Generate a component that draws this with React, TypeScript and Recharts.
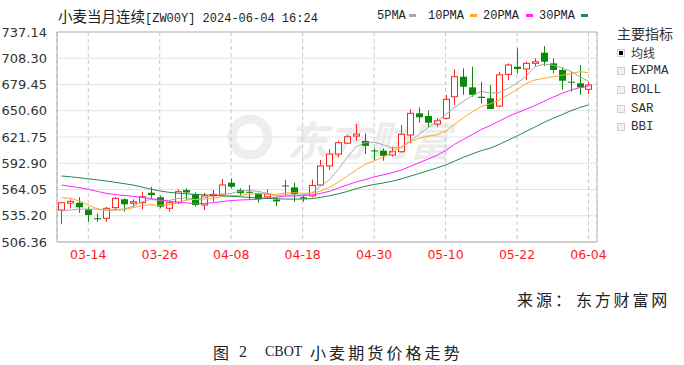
import React from 'react';
import { ComposedChart, Bar, Line, XAxis, YAxis, CartesianGrid, ReferenceLine } from 'recharts';

const dates = ['03-11','03-12','03-13','03-14','03-15','03-18','03-19','03-20','03-21','03-22','03-25','03-26','03-27','03-28','04-01','04-02','04-03','04-04','04-05','04-08','04-09','04-10','04-11','04-12','04-15','04-16','04-17','04-18','04-19','04-22','04-23','04-24','04-25','04-26','04-29','04-30','05-01','05-02','05-03','05-06','05-07','05-08','05-09','05-10','05-13','05-14','05-15','05-16','05-17','05-20','05-21','05-22','05-23','05-24','05-28','05-29','05-30','05-31','06-03','06-04'];
const opens = [541.5,549,549.5,542.3,532.5,532.4,544.1,553.3,549,549.5,560.5,555.5,543.4,549.5,563.4,558.8,547,557.2,558.8,571.5,563.5,561.5,560,556,553,568.5,566.4,555.5,557,569,590,603,615,622.8,617.4,607,606.7,602,605.6,624,647.8,644.8,636,642.3,666,688,676.3,666,664.3,655.8,690.6,699,696.5,702.7,714.4,702.7,695.4,682.5,680.8,674.2];
const highs = [550.6,553.3,555.5,545.1,537.9,545.1,555.5,554.4,553.3,561.6,567.1,557.2,550.6,564.2,565.3,561,560.5,563.5,575.6,576.3,565.3,569,560.6,564.2,556.1,574.5,571.5,557,575,596.5,608.3,617.7,623.9,636,625.8,609.3,609.3,611.1,634.9,652.1,654.3,650.6,642.3,667.9,696.1,697.2,698.9,682.5,678.8,693.5,702.7,719.2,704.5,708.2,721.7,708.2,698.3,693.5,700.9,682.5];
const lows = [526,543.4,538.6,528.6,528.6,528.6,541.5,539.7,545.1,542.3,554.4,543.4,539.7,548,552,545.1,541.5,550.6,557.2,565.3,556.9,553.3,549.5,554.4,545.9,557.2,550.6,550.6,555.5,567.9,585.5,599.4,614,617.7,603.1,596.5,595.7,600.1,604.5,614.8,637.5,633.1,633.1,641.2,656.9,668.2,666,658.8,652.5,655,684.3,691.7,684.3,699.1,699.8,691.7,673.9,671.5,668.2,669];
const closes = [549.5,551,544.5,536,531.3,543.4,554.4,547.8,550.6,556.1,558,545.1,549.5,561.6,560.8,547,557,558.8,569,567.1,560,560.5,553.3,559,551,567.5,559,554,568.5,590,603,615.5,622,625,612,606,601,605.6,624.7,647.8,643.4,637.5,639.6,663.2,688,677,668,664.6,652.5,690.1,700.9,696.5,702.7,704.5,704.5,695.4,683.6,681.4,676.3,678.9];
const ma5 = [540.5,541.5,542.5,542.5,542.5,541.2,541.9,542.6,545.5,550.5,553.4,551.5,551.9,554.1,555,552.8,555.2,557,558.5,559.8,562.4,563.1,562,560,556.8,558.3,558,558.1,560,567.8,574.9,586.2,599.8,611.1,615.5,616.1,613.2,609.9,609.9,617,624.5,631.8,638.6,646.3,654.3,661.1,667.2,672.2,670,670.4,675.2,680.9,688.5,698.9,701.8,700.7,698.1,693.9,688.2,683.1];
const ma10 = [555,554.4,551.5,547,543,541.5,541.3,541.8,544,546.5,547.3,546.7,547.2,549.8,552.7,553.1,553.4,554.5,556.3,557.4,557.6,559.1,559.5,559.3,558.3,560.3,560.5,560,560,562.3,566.6,572.1,579,585.6,591.7,595.5,599.7,604.9,610.5,616.3,620.3,622.5,624.3,628.1,635.7,642.8,649.5,655.4,658.2,662.4,668.1,674,680.4,684.5,686.1,688,689.5,691.2,693.6,692.5];
const ma20 = [569,567.5,566,564.3,562,559.8,558.5,557.5,556.6,555.4,554.1,552.5,551.2,550.2,549.3,548.5,548.7,549.6,550.8,551.9,552.5,552.9,553.4,554.5,555.5,556.7,556.9,557.2,558.1,559.8,562.1,565.6,569.2,572.4,575,577.9,580.1,582.5,585.2,589.3,593.4,597.3,601.6,606.8,613.7,619.1,624.6,630.1,634.3,639.3,644.2,648.3,652.3,656.3,660.9,665.4,669.5,673.3,675.9,677.4];
const ma30 = [578.9,578,577,575.8,574.6,573.4,572,570.5,569,566.8,564.5,562.5,561,560,559.3,558.7,558.2,557.7,557.2,556.6,556,555.4,554.8,554.3,553.9,553.6,553.5,553.6,554,555.4,557.2,559.3,561.9,564.9,567.6,569.6,571.2,573.1,575.6,578.6,581.5,584.6,587.6,591,595.2,599.5,603.2,606.8,609.5,613.6,618.3,622.9,627.9,632.7,637.8,642.1,646.2,650.5,654.1,657];

const yTicks = [506.36, 535.2, 564.05, 592.9, 621.75, 650.6, 679.45, 708.3, 737.14];
const xTicks = ['03-14','03-26','04-08','04-18','04-30','05-10','05-22','06-04'];
const maNames = ['5PMA','10PMA','20PMA','30PMA'];
const maColors = ['#a9a9a9','#ffa824','#ff22ff','#1f8a4c'];
const indicatorNames = ['均线','EXPMA','BOLL','SAR','BBI'];
const titleCn = '小麦当月连续';
const titleCode = '[ZW00Y] 2024-06-04 16:24';

const data = dates.map((d, i) => ({
  date: d,
  open: opens[i],
  high: highs[i],
  low: lows[i],
  close: closes[i],
  range: [lows[i], highs[i]],
  ma5: ma5[i],
  ma10: ma10[i],
  ma20: ma20[i],
  ma30: ma30[i],
}));

const UP = '#ff2020';
const DOWN = '#098a09';

const Candle = (props: any) => {
  const { x, y, width, height, payload } = props;
  if (!payload || x == null || y == null) return null;
  const { open, close, high, low } = payload;
  const top = Math.min(y, y + height);
  const h = Math.abs(height);
  const py = (v: number) => (high === low ? top : top + ((high - v) / (high - low)) * h);
  const cx = Math.round(x + width / 2) + 0.5;
  const up = close >= open;
  const color = up ? UP : DOWN;
  const bTop = py(Math.max(open, close));
  const bBot = py(Math.min(open, close));
  const bh = Math.max(bBot - bTop, 1);
  if (up) {
    return (
      <g>
        <line x1={cx} x2={cx} y1={top} y2={bTop} stroke={color} strokeWidth={1} />
        <line x1={cx} x2={cx} y1={bTop + bh} y2={top + h} stroke={color} strokeWidth={1} />
        <rect x={cx - 3} y={bTop} width={6} height={bh} fill="#fff" stroke={color} strokeWidth={1} />
      </g>
    );
  }
  return (
    <g>
      <line x1={cx} x2={cx} y1={top} y2={top + h} stroke={color} strokeWidth={1} />
      <rect x={cx - 3.5} y={bTop} width={7} height={bh} fill={color} />
    </g>
  );
};

const mono = '"Liberation Mono", monospace';
const cjk = '"Noto Sans CJK SC", sans-serif';

export default function App() {
  const legendX = [377, 428, 483, 539];
  const markerX = [409, 470, 526, 581];
  return (
    <div style={{ position: 'absolute', left: 0, top: 0, width: 684, height: 365, background: '#fff', overflow: 'hidden', fontFamily: '"DejaVu Sans", sans-serif' }}>
      {/* watermark */}
      <svg style={{ position: 'absolute', left: 0, top: 0, zIndex: 0 }} width={684} height={270}>
        <circle cx={250} cy={137} r={18} fill="none" stroke="#eeeeee" strokeWidth={9} />
        <text x={287} y={156} fontSize={41} fontWeight={700} fill="#ececec" fontFamily={cjk} fontStyle="italic">东方财富</text>
      </svg>
      <div style={{ position: 'absolute', left: 0, top: 0, zIndex: 1 }}>
        <ComposedChart width={684} height={270} data={data} margin={{ top: 32, right: 86, bottom: 0, left: 0 }}>
          <CartesianGrid vertical={false} stroke="#e3e3e3" />
          <CartesianGrid horizontal={false} stroke="#c8c8c8" strokeDasharray="4 3" />
          <XAxis
            dataKey="date"
            ticks={xTicks}
            interval={0}
            tickLine={false}
            axisLine={{ stroke: '#aaaaaa' }}
            height={28}
            padding={{ left: 0, right: 4 }}
            tick={{ fill: '#ff1a1a', fontSize: 12.5, fontFamily: '"DejaVu Sans"' }}
          />
          <YAxis
            domain={[506.36, 737.14]}
            ticks={yTicks}
            interval={0}
            allowDataOverflow
            width={57}
            tickLine={false}
            tickMargin={4}
            axisLine={{ stroke: '#aaaaaa' }}
            tickFormatter={(v: number) => v.toFixed(2)}
            tick={{ fill: '#333', fontSize: 13, fontFamily: '"DejaVu Sans"' }}
          />
          <YAxis yAxisId="r" orientation="right" width={1} tick={false} tickLine={false} axisLine={{ stroke: '#bbbbbb' }} domain={[0, 1]} />
          <ReferenceLine y={737.14} stroke="#bbbbbb" />
          <Bar dataKey="range" shape={(p: any) => <Candle {...p} />} isAnimationActive={false} />
          <Line type="linear" dataKey="ma5" stroke={maColors[0]} strokeWidth={1} dot={false} activeDot={false} isAnimationActive={false} />
          <Line type="linear" dataKey="ma10" stroke={maColors[1]} strokeWidth={1} dot={false} activeDot={false} isAnimationActive={false} />
          <Line type="linear" dataKey="ma20" stroke={maColors[2]} strokeWidth={1} dot={false} activeDot={false} isAnimationActive={false} />
          <Line type="linear" dataKey="ma30" stroke={maColors[3]} strokeWidth={1} dot={false} activeDot={false} isAnimationActive={false} />
        </ComposedChart>
      </div>

      {/* title */}
      <div style={{ position: 'absolute', left: 58, top: 7, height: 18, lineHeight: '18px', color: '#222', whiteSpace: 'nowrap', zIndex: 2 }}>
        <span style={{ fontFamily: cjk, fontSize: 14.5 }}>{titleCn}</span>
        <span style={{ fontFamily: mono, fontSize: 12 }}>{titleCode}</span>
      </div>

      {/* MA legend */}
      {maNames.map((n, i) => (
        <React.Fragment key={n}>
          <div style={{ position: 'absolute', left: legendX[i], top: 7, lineHeight: '18px', fontFamily: mono, fontSize: 12, color: '#222', zIndex: 2 }}>{n}</div>
          <div style={{ position: 'absolute', left: markerX[i], top: 14, width: 7, height: 3, background: maColors[i], zIndex: 2 }} />
        </React.Fragment>
      ))}

      {/* right panel */}
      <div style={{ position: 'absolute', left: 617, top: 24, lineHeight: '18px', fontFamily: cjk, fontSize: 14, color: '#333', zIndex: 2 }}>主要指标</div>
      {indicatorNames.map((n, i) => {
        const cy = 52.7 + i * 18.6;
        return (
          <React.Fragment key={n}>
            <div style={{ position: 'absolute', left: 617, top: cy - 4, width: 6, height: 6, border: '1px solid #cfcfcf', background: i === 0 ? '#fff' : '#f1f1f1', zIndex: 2 }}>
              {i === 0 ? <div style={{ position: 'absolute', left: 1, top: 1, width: 4, height: 4, background: '#000' }} /> : null}
            </div>
            <div style={{ position: 'absolute', left: 631, top: cy - 9, lineHeight: '18px', fontFamily: i === 0 ? cjk : mono, fontSize: i === 0 ? 12 : 12.5, color: '#333', whiteSpace: 'nowrap', zIndex: 2 }}>{n}</div>
          </React.Fragment>
        );
      })}

      {/* source */}
      <div style={{ position: 'absolute', left: 517, top: 289, lineHeight: '20px', fontFamily: cjk, fontSize: 16, color: '#222', letterSpacing: 3, whiteSpace: 'nowrap' }}>来源：</div>
      <div style={{ position: 'absolute', left: 576, top: 289, lineHeight: '20px', fontFamily: cjk, fontSize: 16, color: '#222', letterSpacing: 2.8, whiteSpace: 'nowrap' }}>东方财富网</div>

      {/* caption */}
      <div style={{ position: 'absolute', left: 213, top: 342, lineHeight: '20px', fontFamily: cjk, fontSize: 16, color: '#222' }}>图</div>
      <div style={{ position: 'absolute', left: 239, top: 342, lineHeight: '20px', fontFamily: '"Liberation Serif", serif', fontSize: 16, color: '#222' }}>2</div>
      <div style={{ position: 'absolute', left: 265, top: 342, lineHeight: '20px', fontFamily: '"Liberation Serif", serif', fontSize: 14, color: '#222' }}>CBOT</div>
      <div style={{ position: 'absolute', left: 310, top: 342, lineHeight: '20px', fontFamily: cjk, fontSize: 16, color: '#222', letterSpacing: 3.1, whiteSpace: 'nowrap' }}>小麦期货价格走势</div>
    </div>
  );
}
